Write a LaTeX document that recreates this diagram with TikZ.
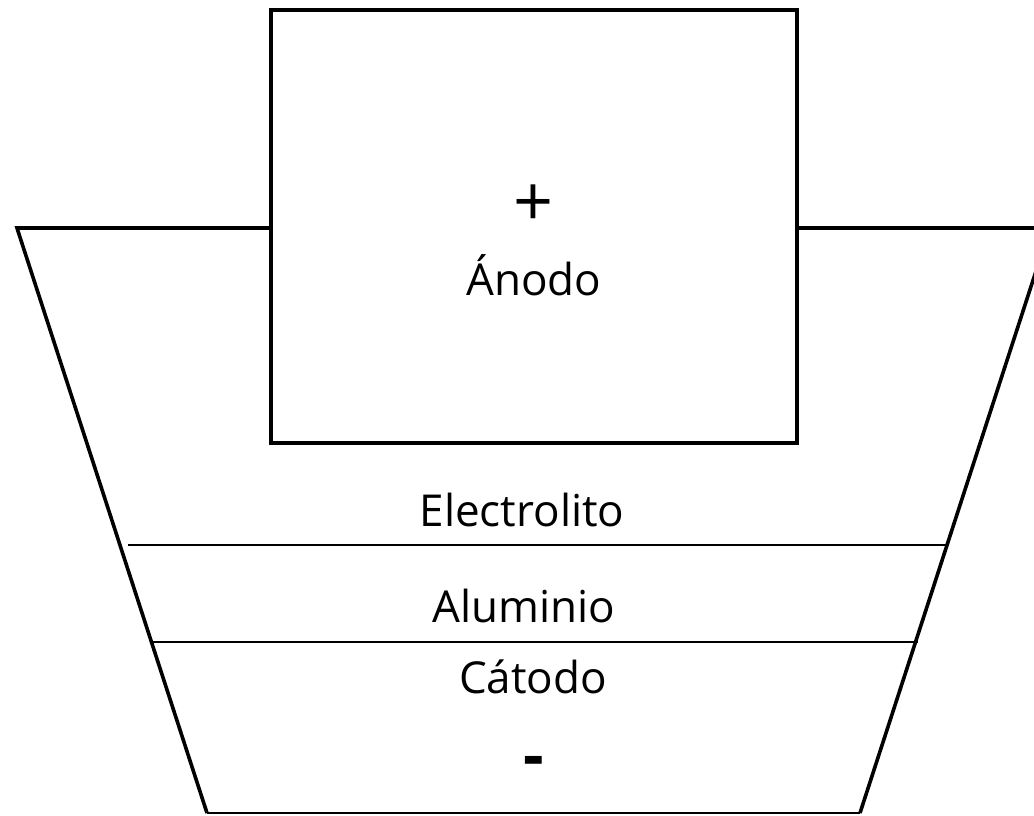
\documentclass[tikz,border=0pt]{standalone}
\usepackage{fontspec}
\setmainfont{Open Sans}
\begin{document}
\begin{tikzpicture}[x=1pt,y=-1pt,
  thickline/.style={line width=3.6pt},
  thinline/.style={line width=2pt},
  lbl/.style={font=\fontsize{44}{50}\selectfont, anchor=base, inner sep=0pt},
  plussign/.style={font=\fontsize{70}{76}\selectfont\mdseries, anchor=center, inner sep=0pt},
  minussign/.style={font=\fontsize{64}{70}\selectfont\bfseries, anchor=center, inner sep=0pt}]
  \useasboundingbox (0,0) rectangle (1034,815);
  \begin{scope}
    \clip (0,0) rectangle (1034,815);
    % vessel outline (trapezoid)
    \coordinate (tl) at (17,228);
    \coordinate (tr) at (1050,228);
    \coordinate (bl) at (207,813);
    \coordinate (br) at (860,813);
    \draw[thickline, line join=miter] (tr) -- (tl) -- (bl);
    \draw[thickline] (br) -- (tr);
    \draw[thinline] (bl) -- (br);
    % anode block
    \draw[thickline, fill=white] (271,10) rectangle (797,443);
    % layer boundaries
    \coordinate (l1a) at (128,545);
    \coordinate (l1b) at (948,545);
    \coordinate (l2a) at (153,642);
    \coordinate (l2b) at (918,642);
    \draw[thinline] (l1a) -- (l1b);
    \draw[thinline] (l2a) -- (l2b);
  \end{scope}
  % labels
  \node[plussign] (plus) at (534,206) {+};
  \node[lbl] (anodo) at (534,295) {Ánodo};
  \node[lbl] (elec) at (522,526) {Electrolito};
  \node[lbl] (alu) at (524,622) {Aluminio};
  \node[lbl] (cat) at (533,693) {Cátodo};
  \node[minussign] (minus) at (534,767) {-};
\end{tikzpicture}
\end{document}
